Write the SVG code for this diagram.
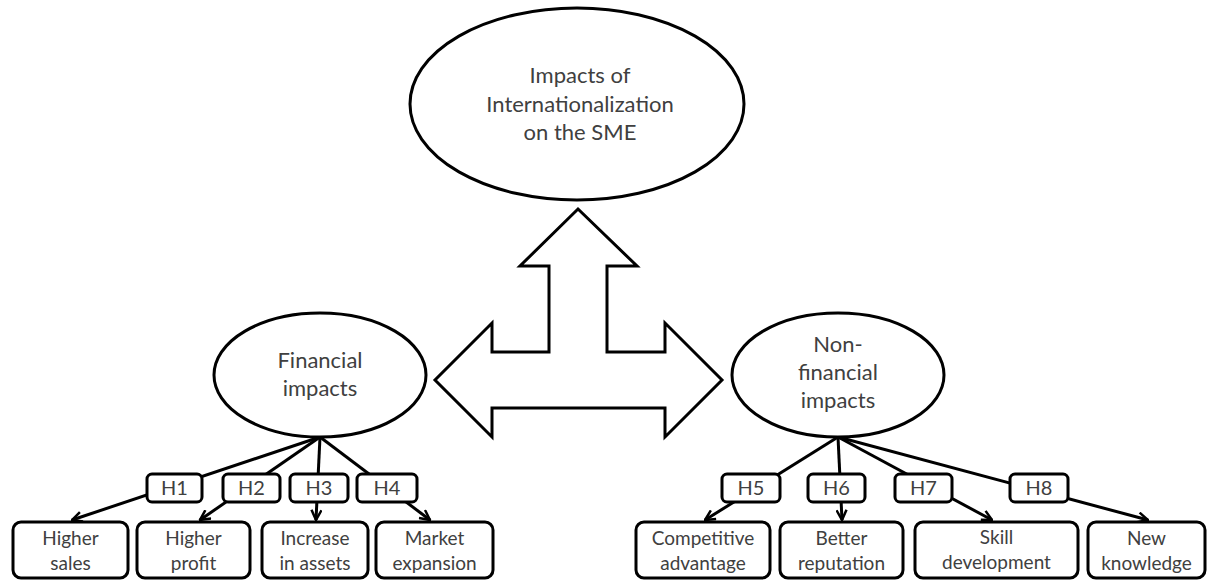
<svg xmlns="http://www.w3.org/2000/svg" width="1208" height="581" viewBox="0 0 1208 581">
<defs>
<style>
.sh{fill:#fff;stroke:#000;stroke-width:3}
.t{font-family:Lato,"Liberation Sans",sans-serif;fill:#404040;text-anchor:middle}
.big{font-size:22px}
.sm{font-size:19px}
.hl{font-size:20px}
.ln{stroke:#000;stroke-width:3;fill:none;marker-end:url(#ah)}
</style>
<marker id="ah" viewBox="0 0 12 12" refX="11" refY="6" markerWidth="12" markerHeight="12" markerUnits="userSpaceOnUse" orient="auto">
<path d="M1,1 L11,6 L1,11" fill="none" stroke="#000" stroke-width="2.5"/>
</marker>
</defs>
<rect width="1208" height="581" fill="#fff"/>

<g id="connectors">
<path class="sh" d="M578,209 L637,266 L607,266 L607,352 L665,352 L665,323 L722,380 L665,437 L665,408 L492,408 L492,437 L435,380 L492,323 L492,352 L549,352 L549,266 L520,266 Z"/>
<line class="ln" x1="320" y1="437" x2="72" y2="520"/>
<line class="ln" x1="320" y1="437" x2="200" y2="520"/>
<line class="ln" x1="320" y1="437" x2="316" y2="520"/>
<line class="ln" x1="320" y1="437" x2="430" y2="520"/>
<line class="ln" x1="838" y1="437" x2="705" y2="520"/>
<line class="ln" x1="838" y1="437" x2="842" y2="520"/>
<line class="ln" x1="838" y1="437" x2="992" y2="520"/>
<line class="ln" x1="838" y1="437" x2="1148" y2="520"/>
</g>

<g id="top">
<ellipse class="sh" cx="577" cy="104" rx="167" ry="96"/>
<text class="t big" x="580" y="83">Impacts of</text>
<text class="t big" x="580" y="112">Internationalization</text>
<text class="t big" x="580" y="140">on the SME</text>
</g>

<g id="financial">
<ellipse class="sh" cx="320" cy="375" rx="106" ry="62"/>
<text class="t big" x="320" y="368">Financial</text>
<text class="t big" x="320" y="396">impacts</text>
</g>

<g id="nonfinancial">
<ellipse class="sh" cx="838" cy="375" rx="106" ry="62"/>
<text class="t big" x="838" y="352">Non-</text>
<text class="t big" x="838" y="380">financial</text>
<text class="t big" x="838" y="408">impacts</text>
</g>

<g id="h1"><rect class="sh" x="147" y="474" width="55" height="28" rx="5"/><text class="t hl" x="174.5" y="495">H1</text></g>
<g id="h2"><rect class="sh" x="223" y="474" width="57" height="28" rx="5"/><text class="t hl" x="251.5" y="495">H2</text></g>
<g id="h3"><rect class="sh" x="290" y="474" width="58" height="28" rx="5"/><text class="t hl" x="319" y="495">H3</text></g>
<g id="h4"><rect class="sh" x="357" y="474" width="60" height="28" rx="5"/><text class="t hl" x="387" y="495">H4</text></g>
<g id="h5"><rect class="sh" x="722" y="474" width="58" height="28" rx="5"/><text class="t hl" x="751" y="495">H5</text></g>
<g id="h6"><rect class="sh" x="808" y="474" width="57" height="28" rx="5"/><text class="t hl" x="836.5" y="495">H6</text></g>
<g id="h7"><rect class="sh" x="895" y="474" width="57" height="28" rx="5"/><text class="t hl" x="923.5" y="495">H7</text></g>
<g id="h8"><rect class="sh" x="1010" y="474" width="58" height="28" rx="5"/><text class="t hl" x="1039" y="495">H8</text></g>

<g id="sales"><rect class="sh" x="13" y="522" width="115" height="56" rx="8"/><text class="t sm" x="70.5" y="545">Higher</text><text class="t sm" x="70.5" y="570">sales</text></g>
<g id="profit"><rect class="sh" x="137" y="522" width="113" height="56" rx="8"/><text class="t sm" x="193.5" y="545">Higher</text><text class="t sm" x="193.5" y="570">profit</text></g>
<g id="assets"><rect class="sh" x="262" y="522" width="106" height="56" rx="8"/><text class="t sm" x="315" y="545">Increase</text><text class="t sm" x="315" y="570">in assets</text></g>
<g id="market"><rect class="sh" x="376" y="522" width="117" height="56" rx="8"/><text class="t sm" x="434.5" y="545">Market</text><text class="t sm" x="434.5" y="570">expansion</text></g>
<g id="competitive"><rect class="sh" x="636" y="522" width="134" height="56" rx="8"/><text class="t sm" x="703" y="545">Competitive</text><text class="t sm" x="703" y="570">advantage</text></g>
<g id="reputation"><rect class="sh" x="780" y="522" width="123" height="56" rx="8"/><text class="t sm" x="841.5" y="545">Better</text><text class="t sm" x="841.5" y="570">reputation</text></g>
<g id="skill"><rect class="sh" x="915" y="522" width="163" height="56" rx="8"/><text class="t sm" x="996.5" y="544">Skill</text><text class="t sm" x="996.5" y="569">development</text></g>
<g id="knowledge"><rect class="sh" x="1088" y="522" width="117" height="56" rx="8"/><text class="t sm" x="1146.5" y="545">New</text><text class="t sm" x="1146.5" y="570">knowledge</text></g>
</svg>
